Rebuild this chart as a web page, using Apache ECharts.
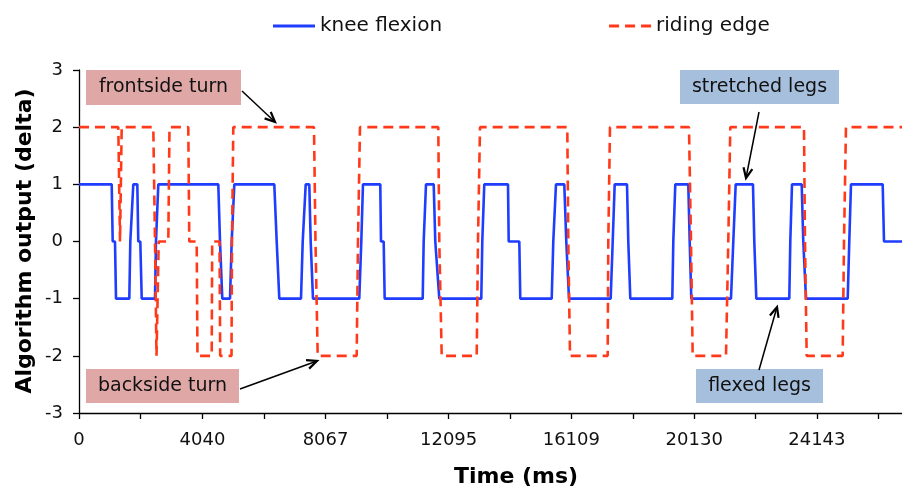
<!DOCTYPE html>
<html>
<head>
<meta charset="utf-8">
<script src="https://cdn.jsdelivr.net/npm/echarts@6/dist/echarts.min.js"></script>
<style>
  html, body { margin: 0; padding: 0; background: #fff; }
  #chart { width: 902px; height: 488px; }
</style>
</head>
<body>
<div id="chart"></div>
<script>
// Knee flexion state over time (ms -> -1 flexed, 0 neutral, 1 stretched)
var kneeTime = [0,1070,1103,1178,1211, 1646,1679,1777,1908,1940, 2006,2052,2487,2519,2595,
  4558,4614,4689,4941,4996, 5082,6390,6469,6554,7264, 7320,7418,7535,7581,7656,
  9171,9237,9292,9858,9881, 9969,10002,11246,11278,11354, 11606,11658,11789,13163,13196,
  13261,14037,14060,14407,14439, 15467,15519,15607,15879,15944, 16033,17397,17463,17528,17931,
  17973,18006,18039,19413,19446, 19511,19936,19982,20035,21333, 21409,21487,22053,22096,22162,
  23241,23274,23330,23647,23699, 23788,25152,25204,25260,26297, 26340,26929];
var kneeValue = [1,1,0,0,-1, -1,0,1,1,0, 0,-1,-1,0,1,
  1,0,-1,-1,0, 1,1,0,-1,-1, 0,1,1,0,-1,
  -1,0,1,1,0, 0,-1,-1,0,1, 1,0,-1,-1,0,
  1,1,0,0,-1, -1,0,1,1,0, -1,-1,0,1,1,
  0,0,-1,-1,0, 1,1,0,-1,-1, 0,1,1,0,-1,
  -1,0,1,1,0, -1,-1,0,1,1, 0,0];

// Riding edge over time (2 frontside, -2 backside, 0 flat)
var edgeTime = [0,1286,1342,1374,1397, 2431,2487,2536,2575,2608, 2922,2961,3576,3609,3851,
  3877,4342,4358,4597,4620, 4990,5006,5049,7689,7738, 7810,9086,9129,9194,11756,
  11789,11868,13013,13055,13121, 15977,16010,16066,17299,17319, 17374,19959,20025,20080,21170,
  21245,21311,23722,23755,23810, 24988,25031,25096,26929];
var edgeValue = [2,2,0,0,2, 2,0,-2,-2,0, 0,2,2,0,0,
  -2,-2,0,0,-2, -2,0,2,2,0, -2,-2,0,2,2,
  0,-2,-2,0,2, 2,0,-2,-2,0, 2,2,0,-2,-2,
  0,2,2,0,-2, -2,0,2,2];

var xLabelValues = [0, 4040, 8067, 12095, 16109, 20130, 24143];
var xTickValues = [0, 2020, 4040, 6053, 8067, 10081, 12095, 14102, 16109, 18120, 20130, 22137, 24143, 26150];

var seriesNames = ['knee flexion', 'riding edge'];
var axisTitles = { x: 'Time (ms)', y: 'Algorithm output (delta)' };
var notes = ['frontside turn', 'backside turn', 'stretched legs', 'flexed legs'];

var FONT = 'DejaVu Sans, Verdana, sans-serif';
var BLUE = '#1f3dff';
var RED = '#ff3a1a';

function pairs(xs, ys) {
  return xs.map(function (t, i) { return [t, ys[i]]; });
}

function arrow(x1, y1, x2, y2) {
  var ang = Math.atan2(y2 - y1, x2 - x1);
  var len = 11, spread = 0.42;
  var a = [x2 - len * Math.cos(ang - spread), y2 - len * Math.sin(ang - spread)];
  var b = [x2 - len * Math.cos(ang + spread), y2 - len * Math.sin(ang + spread)];
  return [
    { type: 'line', shape: { x1: x1, y1: y1, x2: x2, y2: y2 },
      style: { stroke: '#000', lineWidth: 1.5 }, z: 50 },
    { type: 'polyline', shape: { points: [a, [x2, y2], b] },
      style: { stroke: '#000', lineWidth: 2.2, fill: null }, z: 50 }
  ];
}

function box(x, y, w, h, fill, text) {
  return [
    { type: 'rect', shape: { x: x, y: y, width: w, height: h },
      style: { fill: fill }, z: 40 },
    { type: 'text', x: x + w / 2, y: y + h / 2,
      style: { text: text, font: '19px ' + FONT, fill: '#111',
               align: 'center', verticalAlign: 'middle' }, z: 41 }
  ];
}

var chart = echarts.init(document.getElementById('chart'), null, { renderer: 'canvas' });

var graphics = []
  .concat(box(86, 70, 155, 35, '#dfa8a7', notes[0]))
  .concat(box(86, 369, 153, 34, '#dfa8a7', notes[1]))
  .concat(box(680, 70, 159, 34, '#a6bfdd', notes[2]))
  .concat(box(696, 369, 127, 34, '#a6bfdd', notes[3]))
  .concat(arrow(242, 91, 275, 122))
  .concat(arrow(240, 389, 317, 361))
  .concat(arrow(759, 112, 746, 178))
  .concat(arrow(759, 370, 777, 307))
  .concat([
    { type: 'text', x: 516, y: 477,
      style: { text: axisTitles.x, font: 'bold 22px ' + FONT, fill: '#000',
               align: 'center', verticalAlign: 'middle' } },
    { type: 'text', x: 25, y: 241, rotation: Math.PI / 2,
      style: { text: axisTitles.y, font: 'bold 22px ' + FONT, fill: '#000',
               align: 'center', verticalAlign: 'middle' } }
  ]);

chart.setOption({
  animation: false,
  backgroundColor: '#fff',
  textStyle: { fontFamily: FONT },
  legend: {
    left: 273, top: 16, padding: 0,
    itemWidth: 42, itemHeight: 3, itemGap: 167,
    textStyle: { fontSize: 20, color: '#111', fontFamily: FONT },
    data: [
      { name: seriesNames[0], icon: 'path://M0,0H42V3H0Z' },
      { name: seriesNames[1], icon: 'path://M0,0H10V3H0Z M16,0H26V3H16Z M32,0H42V3H32Z' }
    ]
  },
  grid: { left: 79, right: 0, top: 70, bottom: 75, containLabel: false },
  xAxis: {
    type: 'value', min: 0, max: 26929,
    axisLine: { show: true, onZero: false, lineStyle: { color: '#000', width: 1.3 } },
    axisTick: { show: true, inside: false, length: 6, customValues: xTickValues,
                lineStyle: { color: '#000', width: 1.3 } },
    axisLabel: { customValues: xLabelValues, fontSize: 18, color: '#111',
                 fontFamily: FONT, margin: 18,
                 formatter: function (v) { return String(v); } },
    splitLine: { show: false }
  },
  yAxis: {
    type: 'value', min: -3, max: 3, interval: 1,
    axisLine: { show: true, onZero: false, lineStyle: { color: '#000', width: 1.3 } },
    axisTick: { show: true, inside: false, length: 6, lineStyle: { color: '#000', width: 1.3 } },
    axisLabel: { fontSize: 18, color: '#111', fontFamily: FONT, margin: 16 },
    splitLine: { show: false }
  },
  series: [
    {
      name: seriesNames[0], type: 'line', symbol: 'none',
      data: pairs(kneeTime, kneeValue),
      lineStyle: { color: BLUE, width: 2.6 },
      itemStyle: { color: BLUE },
      z: 3
    },
    {
      name: seriesNames[1], type: 'line', symbol: 'none',
      data: pairs(edgeTime, edgeValue),
      lineStyle: { color: RED, width: 2.6, type: [10, 6] },
      itemStyle: { color: RED },
      z: 4
    }
  ],
  graphic: graphics
});
</script>
</body>
</html>
